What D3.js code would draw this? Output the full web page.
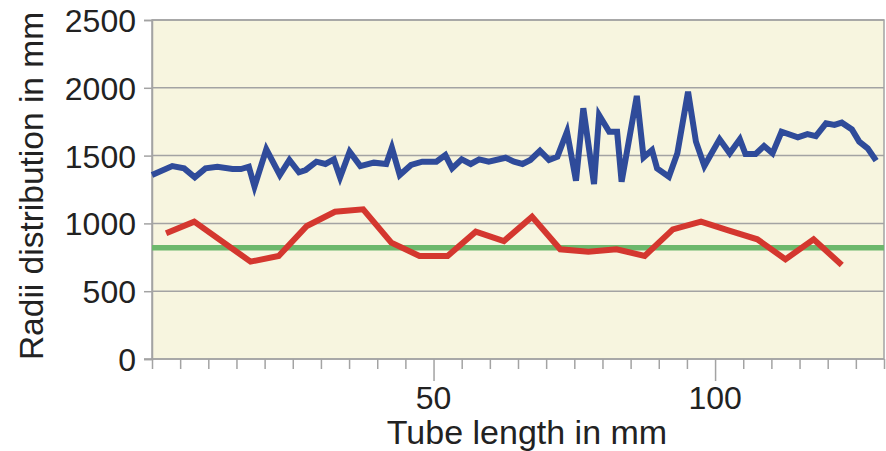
<!DOCTYPE html>
<html lang="en">
<head>
  <meta charset="UTF-8" />
  <title>Radii distribution along the tube</title>
  <style>
    body { margin: 0; background: #fff; font-family: "Liberation Sans", Arial, sans-serif; }
    .tick-label { font-size: 32px; fill: #222; }
    .axis-title { fill: #222; }
  </style>
</head>
<body>
  <div id="chart"></div>

  <script src="https://d3js.org/d3.v7.min.js"></script>
  <script>
    // tube profile (blue)
    const tubeX = [
      0, 3.6, 5.7, 7.6, 9.5, 11.6, 14.3, 15.8, 17.2, 18.2,
      20.3, 22.7, 24.4, 26.1, 27.3, 29.2, 30.8, 32.3, 33.4, 35.1,
      37.0, 39.4, 41.6, 42.6, 44.0, 46.0, 48.0, 50.5, 52.1, 53.3,
      55.0, 56.6, 58.1, 59.8, 62.8, 64.3, 65.8, 67.2, 68.9, 70.5,
      72.0, 73.7, 75.3, 76.6, 78.5, 79.4, 81.2, 82.6, 83.4, 86.1,
      87.3, 88.8, 89.7, 91.8, 93.3, 95.2, 96.6, 98.1, 99.2, 100.8,
      102.6, 104.4, 105.4, 107.2, 108.7, 110.2, 111.8, 114.7, 116.4, 117.9,
      119.7, 121.2, 122.5, 124.3, 125.6, 127.1, 128.6
    ];
    const tubeRadii = [
      1357, 1423, 1406, 1340, 1406, 1418, 1401, 1401, 1418, 1271,
      1546, 1357, 1468, 1377, 1394, 1455, 1438, 1472, 1340, 1529,
      1423, 1448, 1438, 1558, 1357, 1431, 1455, 1455, 1504, 1406,
      1472, 1438, 1472, 1455, 1484, 1455, 1438, 1468, 1536, 1468,
      1492, 1676, 1315, 1849, 1290, 1799, 1676, 1676, 1307, 1940,
      1487, 1541, 1406, 1344, 1517, 1971, 1603, 1423, 1504, 1620,
      1517, 1620, 1512, 1512, 1571, 1517, 1676, 1635, 1659, 1644,
      1738, 1726, 1743, 1693, 1603, 1554, 1463
    ];

    // sampled radii (red), every 5 mm
    const sampleX = [2.5, 7.5, 17.5, 22.5, 27.5, 32.5, 37.5, 42.5, 47.5, 52.5, 57.5, 62.5,
      67.5, 72.5, 77.5, 82.5, 87.5, 92.5, 97.5, 102.5, 107.5, 112.5, 117.5, 122.5];
    const sampleRadii = [927, 1013, 718, 760, 981, 1086, 1104, 858, 760, 760, 939, 870,
      1049, 809, 791, 809, 760, 956, 1013, 946, 883, 735, 883, 693];

    // constant reference radius (green)
    const refRadius = 820;

    const yTicks = [0, 500, 1000, 1500, 2000, 2500];
    const xMinorTicks = d3.range(0, 131, 5);
    const xLabelTicks = [50, 100];

    const width = 886;
    const height = 451;
    const margin = { top: 20, right: 2, bottom: 92, left: 152 };
    const innerWidth = width - margin.left - margin.right;
    const innerHeight = height - margin.top - margin.bottom;

    const svg = d3.select('#chart')
      .append('svg')
      .attr('width', width)
      .attr('height', height);

    const g = svg.append('g')
      .attr('transform', `translate(${margin.left},${margin.top})`);

    const xScale = d3.scaleLinear().domain([0, 130]).range([0, innerWidth]);
    const yScale = d3.scaleLinear().domain([0, 2500]).range([innerHeight, 0]);

    // plot background
    g.append('rect')
      .attr('width', innerWidth)
      .attr('height', innerHeight)
      .attr('fill', '#f7f5df')
      .attr('stroke', '#a3a3a3')
      .attr('stroke-width', 1.5);

    // y axis: gridlines, short ticks, labels
    const yAxis = g.append('g')
      .call(d3.axisLeft(yScale).tickValues(yTicks).tickSize(8).tickPadding(8).tickFormat(d3.format('d')));
    yAxis.attr('font-family', null).attr('font-size', null);
    yAxis.select('.domain').attr('stroke', '#a3a3a3').attr('stroke-width', 1.5);
    yAxis.selectAll('.tick line').attr('stroke', '#a3a3a3').attr('stroke-width', 1.5);
    yAxis.selectAll('.tick text')
      .attr('class', 'tick-label')
      .attr('dy', '0.36em');

    g.append('g')
      .selectAll('line')
      .data(yTicks.slice(1))
      .join('line')
        .attr('x1', 0)
        .attr('x2', innerWidth)
        .attr('y1', d => yScale(d))
        .attr('y2', d => yScale(d))
        .attr('stroke', '#a3a3a3')
        .attr('stroke-width', 1.5);

    // x axis: minor ticks every 5 mm, longer ticks with labels at 50 and 100
    const xAxis = g.append('g')
      .attr('transform', `translate(0,${innerHeight})`)
      .call(d3.axisBottom(xScale).tickValues(xMinorTicks).tickSize(10).tickFormat(''));
    xAxis.select('.domain').remove();
    xAxis.selectAll('.tick line')
      .attr('stroke', '#a3a3a3')
      .attr('stroke-width', 1.5)
      .attr('y2', d => xLabelTicks.includes(d) ? 22 : 10);

    g.append('line')
      .attr('x1', -8)
      .attr('x2', innerWidth)
      .attr('y1', innerHeight)
      .attr('y2', innerHeight)
      .attr('stroke', '#a3a3a3')
      .attr('stroke-width', 1.5);

    g.append('g')
      .selectAll('text')
      .data(xLabelTicks)
      .join('text')
        .attr('class', 'tick-label')
        .attr('x', d => xScale(d))
        .attr('y', innerHeight + 50)
        .attr('text-anchor', 'middle')
        .text(d => d);

    // series
    const line = d3.line()
      .x(d => xScale(d[0]))
      .y(d => yScale(d[1]));

    g.append('line')
      .attr('x1', 0)
      .attr('x2', innerWidth)
      .attr('y1', yScale(refRadius))
      .attr('y2', yScale(refRadius))
      .attr('stroke', '#6cb86c')
      .attr('stroke-width', 5.5);

    g.append('path')
      .datum(d3.zip(sampleX, sampleRadii))
      .attr('d', line)
      .attr('fill', 'none')
      .attr('stroke', '#d4372f')
      .attr('stroke-width', 6);

    g.append('path')
      .datum(d3.zip(tubeX, tubeRadii))
      .attr('d', line)
      .attr('fill', 'none')
      .attr('stroke', '#2f4b9a')
      .attr('stroke-width', 6);

    // axis titles
    svg.append('text')
      .attr('class', 'axis-title')
      .attr('font-size', 33.5)
      .attr('transform', 'translate(43,186) rotate(-90)')
      .attr('text-anchor', 'middle')
      .text('Radii distribution in mm');

    svg.append('text')
      .attr('class', 'axis-title')
      .attr('font-size', 34)
      .attr('x', 527)
      .attr('y', 444)
      .attr('text-anchor', 'middle')
      .text('Tube length in mm');
  </script>
</body>
</html>
